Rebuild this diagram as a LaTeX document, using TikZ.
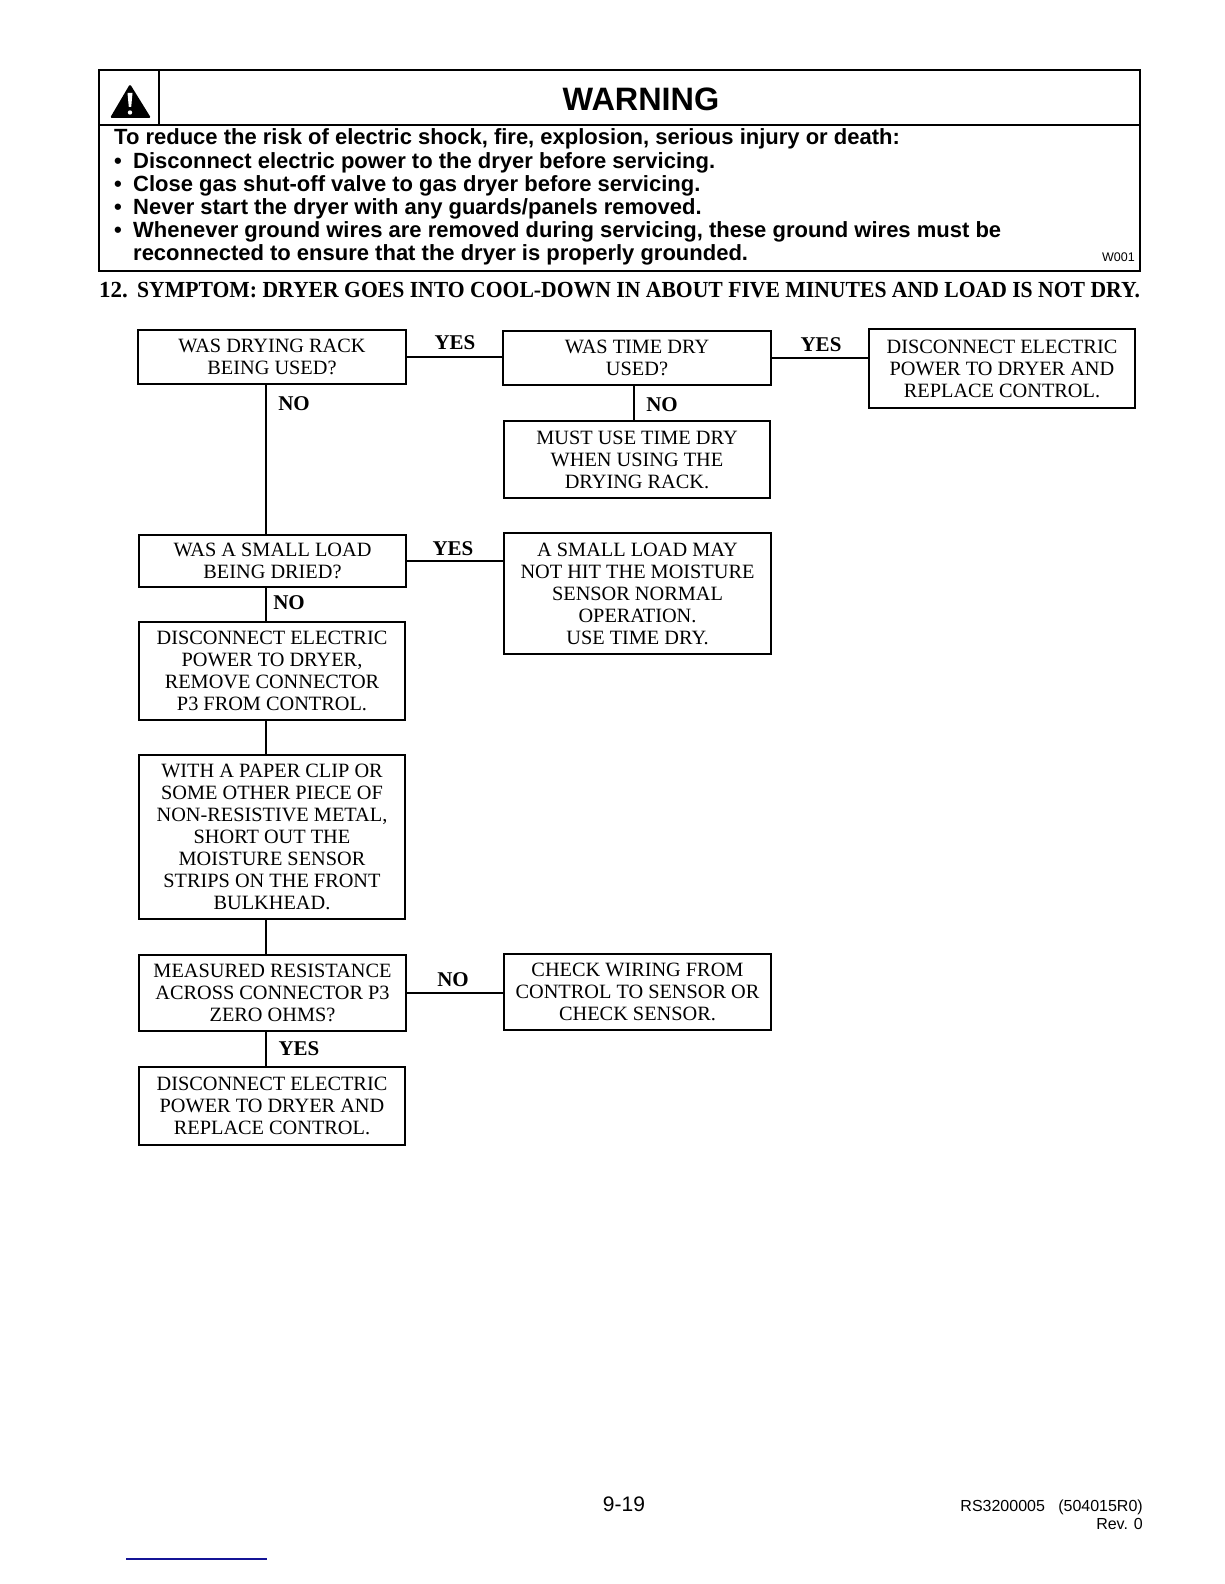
\documentclass[tikz,border=0pt]{standalone}
\usepackage{graphicx}
\usepackage{fontspec}
\setmainfont{Liberation Serif}
\newfontfamily\hv{Liberation Sans}
\tikzset{
 x=1pt,y=-1pt,
 box/.style={draw=black,line width=2pt,fill=white,inner sep=0pt,align=center,font=\fontsize{20.3}{22}\selectfont},
 conn/.style={draw=black,line width=2pt},
 lab/.style={inner sep=0pt,font=\fontsize{21}{22}\selectfont\bfseries},
 warn/.style={anchor=base west,inner sep=0pt,font=\hv\bfseries\fontsize{22}{23}\selectfont},
 foot/.style={inner sep=0pt,font=\hv\fontsize{16}{18}\selectfont},
 head/.style={anchor=base west,inner sep=0pt,font=\bfseries\fontsize{23}{26}\selectfont},
}
\newcommand{\flowbox}[6]{% name, x1, y1, x2, y2, text
 \pgfmathsetmacro{\cxx}{(#2+#4)/2}\pgfmathsetmacro{\cyy}{(#3+#5)/2}
 \pgfmathsetmacro{\ww}{#4-#2}\pgfmathsetmacro{\hh}{#5-#3}
 \node[box,minimum width=\ww pt,minimum height=\hh pt] (#1) at (\cxx,\cyy) {#6};}
\begin{document}
\begin{tikzpicture}
\useasboundingbox (0,0) rectangle (1224,1584);
\fill[white] (0,0) rectangle (1224,1584);
% warning panel
\draw[line width=2.4pt] (99,70) rectangle (1140,271);
\draw[line width=2pt] (99,125) -- (1140,125);
\draw[line width=2pt] (159,70) -- (159,125);
\fill[black,rounded corners=1.5pt] (130,84) -- (151,118) -- (110,118) -- cycle;
\fill[white] (127.5,93) -- (132.5,93) -- (131.2,107) -- (128.8,107) -- cycle;
\fill[white] (130,112.5) circle (2.2);
\node[anchor=base,inner sep=0pt,font=\hv\bfseries\fontsize{32.4}{36}\selectfont] (wt) at (641,111) {WARNING};
\node[warn] (w1) at (114,145) {To reduce the risk of electric shock, fire, explosion, serious injury or death:};
\node[warn] (w2) at (114,168) {\textbullet};
\node[warn] (w2t) at (133,168) {Disconnect electric power to the dryer before servicing.};
\node[warn] (w3) at (114,191) {\textbullet};
\node[warn] (w3t) at (133,191) {Close gas shut-off valve to gas dryer before servicing.};
\node[warn] (w4) at (114,214) {\textbullet};
\node[warn] (w4t) at (133,214) {Never start the dryer with any guards/panels removed.};
\node[warn] (w5) at (114,237) {\textbullet};
\node[warn] (w5t) at (133,237) {Whenever ground wires are removed during servicing, these ground wires must be};
\node[warn] (w6t) at (133,260) {reconnected to ensure that the dryer is properly grounded.};
\node[anchor=base east,inner sep=0pt,font=\hv\fontsize{12.5}{14}\selectfont] (wc) at (1135,261) {W001};
% heading
\node[head] (hn) at (99,297) {12.};
\node[head] (h) at (137,297) {\resizebox{1003pt}{\height}{SYMPTOM: DRYER GOES INTO COOL-DOWN IN ABOUT FIVE MINUTES AND LOAD IS NOT DRY.}};
% boxes
\flowbox{A}{138}{330}{406}{384}{WAS DRYING RACK\\BEING USED?}
\flowbox{B}{503}{331}{771}{385}{WAS TIME DRY\\USED?}
\flowbox{C}{869}{329}{1135}{408}{DISCONNECT ELECTRIC\\POWER TO DRYER AND\\REPLACE CONTROL.}
\flowbox{D}{504}{421}{770}{498}{MUST USE TIME DRY\\WHEN USING THE\\DRYING RACK.}
\flowbox{E}{139}{535}{406}{587}{WAS A SMALL LOAD\\BEING DRIED?}
\flowbox{F}{504}{533}{771}{654}{A SMALL LOAD MAY\\NOT HIT THE MOISTURE\\SENSOR NORMAL\\OPERATION.\\USE TIME DRY.}
\flowbox{G}{139}{622}{405}{720}{DISCONNECT ELECTRIC\\POWER TO DRYER,\\REMOVE CONNECTOR\\P3 FROM CONTROL.}
\flowbox{H}{139}{755}{405}{919}{WITH A PAPER CLIP OR\\SOME OTHER PIECE OF\\NON-RESISTIVE METAL,\\SHORT OUT THE\\MOISTURE SENSOR\\STRIPS ON THE FRONT\\BULKHEAD.}
\flowbox{I}{139}{955}{406}{1031}{MEASURED RESISTANCE\\ACROSS CONNECTOR P3\\ZERO OHMS?}
\flowbox{J}{504}{954}{771}{1030}{CHECK WIRING FROM\\CONTROL TO SENSOR OR\\CHECK SENSOR.}
\flowbox{K}{139}{1067}{405}{1145}{DISCONNECT ELECTRIC\\POWER TO DRYER AND\\REPLACE CONTROL.}
% connectors
\coordinate (v1) at (266,0);
\coordinate (v2) at (634,0);
\draw[conn] (A.east) -- (A.east -| B.west);
\draw[conn] (B.east) -- (B.east -| C.west);
\draw[conn] (E.east) -- (E.east -| F.west);
\draw[conn] (I.east) -- (I.east -| J.west);
\draw[conn] (A.south -| v1) -- (E.north -| v1);
\draw[conn] (B.south -| v2) -- (D.north -| v2);
\draw[conn] (E.south -| v1) -- (G.north -| v1);
\draw[conn] (G.south -| v1) -- (H.north -| v1);
\draw[conn] (H.south -| v1) -- (I.north -| v1);
\draw[conn] (I.south -| v1) -- (K.north -| v1);
% labels
\node[lab] (l1) at (455,343) {YES};
\node[lab] (l2) at (821,345) {YES};
\node[lab] (l3) at (294,404) {NO};
\node[lab] (l4) at (662,405) {NO};
\node[lab] (l5) at (453,549) {YES};
\node[lab] (l6) at (289,603) {NO};
\node[lab] (l7) at (453,980) {NO};
\node[lab] (l8) at (299,1049) {YES};
% footer
\node[anchor=base,inner sep=0pt,font=\hv\fontsize{21}{24}\selectfont] (p) at (624,1511) {9-19};
\node[foot,anchor=base east] (r1) at (1143,1511) {RS3200005\ \ \ (504015R0)};
\node[foot,anchor=base east] (r2) at (1143,1529) {Rev. 0};
\draw[line width=1.5pt,color={rgb,255:red,20;green,20;blue,150}] (126,1559) -- (267,1559);
\end{tikzpicture}
\end{document}
